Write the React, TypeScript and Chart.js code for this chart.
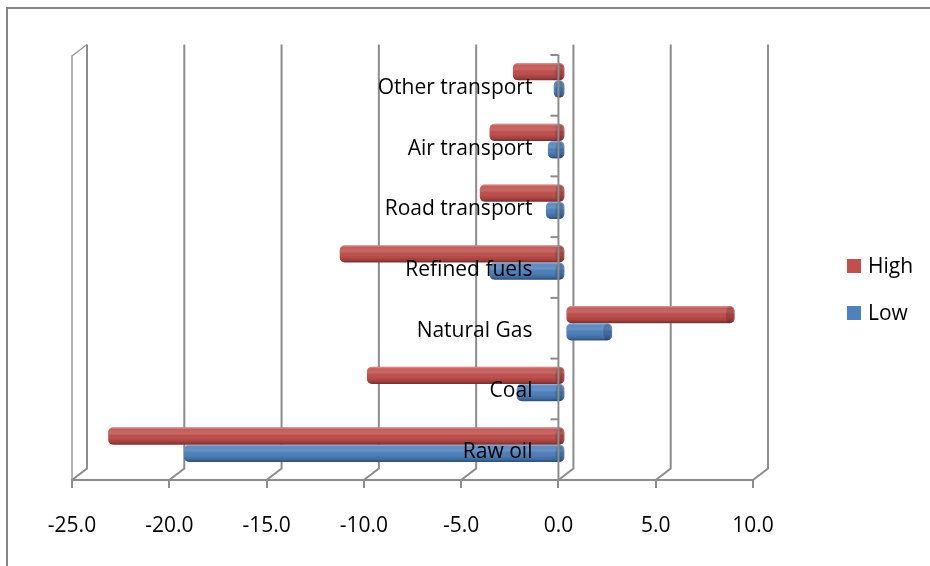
import { useEffect, useRef } from 'react';
import { Chart, registerables } from 'chart.js';

Chart.register(...registerables);

// ---- data ----
const categories = ['Raw oil', 'Coal', 'Natural Gas', 'Refined fuels', 'Road transport', 'Air transport', 'Other transport'];
const highValues = [-23.5, -10.2, 8.7, -11.6, -4.4, -3.9, -2.7];
const lowValues = [-19.6, -2.5, 2.4, -3.9, -1.0, -0.9, -0.6];
const seriesNames = ['High', 'Low'];
const seriesColors = ['#C0504D', '#4F81BD'];
const xMin = -25;
const xMax = 10;
const xStep = 5;

// ---- style constants ----
const FONT = '"Open Sans", "Noto Sans", sans-serif';
const GRID = '#8c8c8c';
const DEPTH_DX = 15;
const DEPTH_DY = -11.5;
const BAR_DX = 7;
const BAR_DY = -5;

const frame3d = {
  id: 'frame3d',
  beforeDraw(chart: any) {
    const ctx = chart.ctx;
    ctx.save();
    ctx.fillStyle = '#ffffff';
    ctx.fillRect(0, 0, chart.width, chart.height);
    ctx.strokeStyle = '#858585';
    ctx.lineWidth = 2;
    ctx.beginPath();
    ctx.moveTo(7, chart.height + 2);
    ctx.lineTo(7, 8);
    ctx.lineTo(chart.width + 2, 8);
    ctx.stroke();
    ctx.restore();
  },
  beforeDatasetsDraw(chart: any) {
    const ctx = chart.ctx;
    const xs = chart.scales.x;
    const { top, bottom, left } = chart.chartArea;
    const wallTop = top + 1;
    ctx.save();
    ctx.strokeStyle = GRID;
    ctx.lineWidth = 2;
    xs.ticks.forEach((t: any) => {
      const px = xs.getPixelForValue(t.value);
      ctx.beginPath();
      ctx.moveTo(px, bottom);
      ctx.lineTo(px + DEPTH_DX, bottom + DEPTH_DY);
      ctx.lineTo(px + DEPTH_DX, wallTop + DEPTH_DY);
      ctx.stroke();
    });
    // left side wall front edge
    ctx.lineWidth = 1.5;
    ctx.strokeStyle = '#9a9a9a';
    ctx.beginPath();
    ctx.moveTo(left, bottom);
    ctx.lineTo(left, wallTop);
    ctx.lineTo(left + DEPTH_DX, wallTop + DEPTH_DY);
    ctx.stroke();
    ctx.restore();
    ctx.save();
    ctx.translate(BAR_DX, BAR_DY);
  },
  afterDatasetsDraw(chart: any) {
    const ctx = chart.ctx;
    chart.data.datasets.forEach((ds: any, di: number) => {
      const meta = chart.getDatasetMeta(di);
      meta.data.forEach((el: any) => {
        const { x, y, base, height } = el.getProps(['x', 'y', 'base', 'height'], true);
        const l = Math.min(x, base);
        const r = Math.max(x, base);
        const t = y - height / 2;
        const b = y + height / 2;
        const rad = Math.min(5, (r - l) / 2, height / 2);
        ctx.save();
        ctx.beginPath();
        ctx.roundRect(l, t, r - l, height, rad);
        ctx.clip();
        const g = ctx.createLinearGradient(0, t, 0, b);
        g.addColorStop(0, 'rgba(255,255,255,0.45)');
        g.addColorStop(0.12, 'rgba(255,255,255,0.08)');
        g.addColorStop(0.35, 'rgba(255,255,255,0.14)');
        g.addColorStop(0.6, 'rgba(0,0,0,0)');
        g.addColorStop(0.85, 'rgba(0,0,0,0.18)');
        g.addColorStop(1, 'rgba(0,0,0,0.42)');
        ctx.fillStyle = g;
        ctx.fillRect(l, t, r - l, height);
        ctx.beginPath();
        ctx.ellipse(r - rad, y, Math.max(rad * 0.8, 1), height / 2, 0, 0, Math.PI * 2);
        ctx.fillStyle = 'rgba(0,0,0,0.16)';
        ctx.fill();
        ctx.restore();
      });
    });
    ctx.restore();

    // category axis at x = 0 (front plane) with labels over the bars
    const xs = chart.scales.x;
    const ys = chart.scales.y;
    const { top, bottom } = chart.chartArea;
    const x0 = xs.getPixelForValue(0);
    const spacing = Math.abs(ys.getPixelForValue(1) - ys.getPixelForValue(0));
    ctx.save();
    ctx.strokeStyle = GRID;
    ctx.lineWidth = 2;
    ctx.beginPath();
    ctx.moveTo(x0, bottom);
    ctx.lineTo(x0, top);
    ctx.stroke();
    const bounds: number[] = [];
    categories.forEach((_, i) => {
      const c = ys.getPixelForValue(i);
      bounds.push(c - spacing / 2, c + spacing / 2);
    });
    const uniq = Array.from(new Set(bounds.map((v) => Math.round(v * 10) / 10)));
    uniq.forEach((yb) => {
      ctx.beginPath();
      ctx.moveTo(x0 - 8, yb);
      ctx.lineTo(x0, yb);
      ctx.stroke();
    });
    ctx.fillStyle = '#000';
    ctx.font = `21px ${FONT}`;
    ctx.textAlign = 'right';
    ctx.textBaseline = 'middle';
    categories.forEach((name, i) => {
      ctx.fillText(name, x0 - 26, ys.getPixelForValue(i) + 2.5);
    });
    ctx.restore();
  },
  afterDraw(chart: any) {
    const ctx = chart.ctx;
    const { right } = chart.chartArea;
    const lx = right + 94;
    const rows = [266, 313];
    ctx.save();
    ctx.font = `21px ${FONT}`;
    ctx.textAlign = 'left';
    ctx.textBaseline = 'middle';
    chart.data.datasets.forEach((ds: any, i: number) => {
      const cy = rows[i];
      ctx.fillStyle = ds.backgroundColor;
      ctx.fillRect(lx, cy - 7, 14, 14);
      ctx.fillStyle = '#000';
      ctx.fillText(ds.label, lx + 21, cy + 1);
    });
    ctx.restore();
  },
};

export default function App() {
  const ref = useRef<HTMLCanvasElement>(null);
  useEffect(() => {
    const canvas = ref.current;
    if (!canvas) return;
    const chart = new Chart(canvas, {
      type: 'bar',
      data: {
        labels: categories,
        datasets: [
          { label: seriesNames[0], data: highValues, backgroundColor: seriesColors[0], borderRadius: 5, borderSkipped: false },
          { label: seriesNames[1], data: lowValues, backgroundColor: seriesColors[1], borderRadius: 5, borderSkipped: false },
        ],
      },
      options: {
        indexAxis: 'y',
        responsive: false,
        animation: false,
        layout: { padding: { left: 72, right: 177, top: 55, bottom: 24 } },
        datasets: { bar: { categoryPercentage: 0.57, barPercentage: 1 } },
        plugins: { legend: { display: false }, tooltip: { enabled: false } },
        scales: {
          x: {
            type: 'linear',
            min: xMin,
            max: xMax,
            afterFit: (scale: any) => {
              scale.height = 62;
            },
            ticks: {
              stepSize: xStep,
              padding: 25,
              maxRotation: 0,
              color: '#000',
              font: { size: 21, family: FONT },
              callback: (v: any) => Number(v).toFixed(1),
            },
            grid: { drawOnChartArea: false, drawTicks: true, tickLength: 8, color: GRID, lineWidth: 2 },
            border: { display: true, color: GRID, width: 2 },
          },
          y: { type: 'category', reverse: true, display: false, offset: true },
        },
      } as any,
      plugins: [frame3d],
    });
    return () => chart.destroy();
  }, []);
  return (
    <div style={{ position: 'fixed', left: 0, top: 0, width: 930, height: 566, background: '#fff' }}>
      <canvas ref={ref} width={930} height={566} style={{ display: 'block' }} />
    </div>
  );
}
